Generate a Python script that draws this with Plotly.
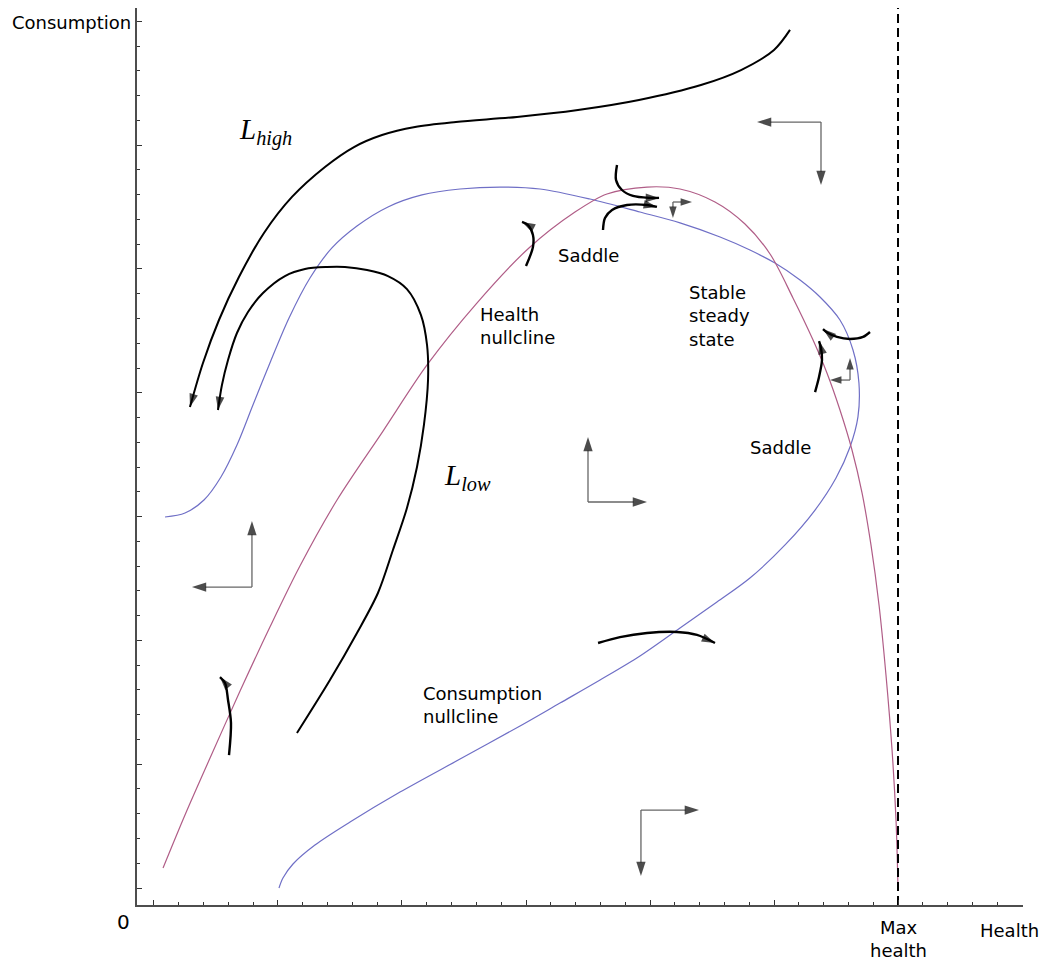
import plotly.graph_objects as go

# Axis extents (one major tick = 1 unit of health / consumption)
X_RANGE = [-0.137, 7.008]
Y_RANGE = [-0.137, 7.108]
MAX_HEALTH = 6.0

# Trajectory L_high (runs from top right down to the left)
lhigh_h = [5.129, 5.000, 4.734, 4.411, 3.911, 3.419, 2.927, 2.435, 2.105, 1.839,
           1.613, 1.379, 1.113, 0.887, 0.685, 0.524, 0.395, 0.290]
lhigh_c = [6.931, 6.769, 6.607, 6.486, 6.365, 6.284, 6.228, 6.187, 6.147, 6.082,
           5.985, 5.824, 5.582, 5.291, 4.935, 4.588, 4.241, 3.885]

# Trajectory L_low (starts low, loops over the top and comes down on the left)
llow_h = [1.153, 1.419, 1.637, 1.806, 1.927, 2.040, 2.121, 2.177, 2.210, 2.202,
          2.153, 2.040, 1.887, 1.718, 1.540, 1.395, 1.218, 1.056, 0.879, 0.758,
          0.669, 0.597, 0.548, 0.516]
llow_c = [1.252, 1.680, 2.060, 2.383, 2.730, 3.069, 3.401, 3.740, 4.103, 4.386,
          4.628, 4.838, 4.943, 4.992, 5.016, 5.016, 5.000, 4.943, 4.806, 4.653,
          4.483, 4.265, 4.063, 3.861]

# Consumption nullcline
cnull_h = [0.089, 0.250, 0.403, 0.540, 0.669, 0.798, 0.935, 1.089, 1.258, 1.435,
           1.637, 1.887, 2.161, 2.468, 2.790, 3.113, 3.516, 3.919, 4.242, 4.565,
           4.806, 5.008, 5.210, 5.371, 5.532, 5.637, 5.685, 5.677, 5.613, 5.500,
           5.331, 5.089, 4.806, 4.540, 4.242, 3.919, 3.597, 3.274, 2.952, 2.468,
           1.984, 1.581, 1.298, 1.121, 1.040, 1.008]
cnull_c = [2.997, 3.029, 3.134, 3.320, 3.578, 3.901, 4.241, 4.604, 4.927, 5.170,
           5.347, 5.501, 5.598, 5.646, 5.662, 5.646, 5.565, 5.460, 5.372, 5.258,
           5.153, 5.048, 4.911, 4.774, 4.588, 4.346, 4.079, 3.805, 3.562, 3.312,
           3.053, 2.771, 2.504, 2.310, 2.100, 1.874, 1.680, 1.494, 1.309, 1.042,
           0.775, 0.533, 0.347, 0.194, 0.081, 0.000]

# Health nullcline
hnull_h = [0.073, 0.250, 0.452, 0.694, 0.935, 1.177, 1.476, 1.847, 2.202, 2.597,
           3.024, 3.395, 3.653, 3.976, 4.242, 4.524, 4.766, 4.968, 5.153, 5.315,
           5.427, 5.532, 5.629, 5.710, 5.782, 5.847, 5.903, 5.952, 5.984, 6.000]
hnull_c = [0.162, 0.590, 1.050, 1.591, 2.108, 2.601, 3.134, 3.691, 4.225, 4.717,
           5.170, 5.460, 5.606, 5.662, 5.646, 5.541, 5.363, 5.121, 4.766, 4.426,
           4.160, 3.861, 3.538, 3.191, 2.771, 2.286, 1.721, 1.115, 0.549, 0.000]

# Local flow sketches around the equilibria
flow_saddle_upper_h = [3.734, 3.726, 3.774, 3.863, 4.000, 4.073]
flow_saddle_upper_c = [5.840, 5.719, 5.638, 5.590, 5.574, 5.574]
flow_saddle_lower_h = [3.621, 3.637, 3.694, 3.815, 3.976, 4.056]
flow_saddle_lower_c = [5.315, 5.412, 5.477, 5.517, 5.517, 5.501]
flow_hnull_h = [3.000, 3.056, 3.056, 3.016, 2.968]
flow_hnull_c = [5.024, 5.178, 5.275, 5.355, 5.380]
flow_lowleft_h = [0.605, 0.621, 0.597, 0.573, 0.532]
flow_lowleft_c = [1.074, 1.333, 1.519, 1.656, 1.704]
flow_cnull_h = [3.581, 3.758, 3.976, 4.218, 4.379, 4.524]
flow_cnull_c = [1.979, 2.027, 2.060, 2.068, 2.044, 1.979]
flow_stable_top_h = [5.774, 5.718, 5.613, 5.508, 5.435, 5.395]
flow_stable_top_c = [4.491, 4.451, 4.435, 4.451, 4.483, 4.515]
flow_stable_left_h = [5.331, 5.363, 5.387, 5.379, 5.363]
flow_stable_left_c = [4.006, 4.128, 4.265, 4.362, 4.418]

# Direction-field corners: horizontal component tip (health) and
# vertical component tip (consumption) for each region
dir_corner_h = [5.379, 3.500, 0.790, 3.927, 4.185, 5.613]
dir_corner_c = [6.187, 3.118, 2.431, 0.630, 5.541, 4.103]
dir_tip_h = [4.863, 3.976, 0.306, 4.395, 4.339, 5.452]
dir_tip_c = [5.679, 3.643, 2.964, 0.097, 5.412, 4.281]
dir_head_px = [15, 15, 15, 15, 12, 12]

BLUE = "#6f6fc6"
PINK = "#b05d87"
FONT = "DejaVu Sans"

fig = go.Figure()


def add_path(h, c, color, width, head=0, smooth=True, dash=None):
    sizes = [0] * (len(h) - 1) + [head]
    fig.add_trace(go.Scatter(
        x=h, y=c,
        mode="lines+markers" if head else "lines",
        line=dict(color=color, width=width, dash=dash,
                  shape="spline" if smooth else "linear", smoothing=0.9),
        marker=dict(symbol="arrow", size=sizes, angleref="previous",
                    color="black", line=dict(width=0)),
        hoverinfo="skip", showlegend=False,
    ))


# Nullclines
add_path(cnull_h, cnull_c, BLUE, 1.2)
add_path(hnull_h, hnull_c, PINK, 1.2)

# Max health boundary
add_path([MAX_HEALTH, MAX_HEALTH], [Y_RANGE[0], Y_RANGE[1]], "black", 2,
         smooth=False, dash="9px,5px")

# Trajectories
add_path(lhigh_h, lhigh_c, "black", 2, head=14)
add_path(llow_h, llow_c, "black", 2, head=14)

# Local flow arrows
for fh, fc in [(flow_saddle_upper_h, flow_saddle_upper_c),
               (flow_saddle_lower_h, flow_saddle_lower_c),
               (flow_hnull_h, flow_hnull_c),
               (flow_lowleft_h, flow_lowleft_c),
               (flow_cnull_h, flow_cnull_c),
               (flow_stable_top_h, flow_stable_top_c),
               (flow_stable_left_h, flow_stable_left_c)]:
    add_path(fh, fc, "black", 2.4, head=14)

# Direction-field arrows
for ch, cc, th, tc, hs in zip(dir_corner_h, dir_corner_c, dir_tip_h, dir_tip_c, dir_head_px):
    add_path([ch, th], [cc, cc], "#666666", 1.3, head=hs, smooth=False)
    add_path([ch, ch], [cc, tc], "#666666", 1.3, head=hs, smooth=False)

# Region labels
labels = [
    ("Saddle", 3.508, 5.105, "center"),
    ("Health<br>nullcline", 2.613, 4.540, "left"),
    ("Stable<br>steady<br>state", 4.298, 4.620, "left"),
    ("Saddle", 5.056, 3.562, "center"),
    ("Consumption<br>nullcline", 2.153, 1.478, "left"),
]
for text, x, y, anchor in labels:
    fig.add_annotation(x=x, y=y, text=text, showarrow=False, xanchor=anchor,
                       yanchor="middle", align="left",
                       font=dict(family=FONT, size=18, color="black"))

fig.add_annotation(x=0.669, y=6.107, text="<i>L</i><sub><i>high</i></sub>",
                   showarrow=False, xanchor="left", yanchor="middle",
                   font=dict(family="Liberation Serif", size=29, color="black"))
fig.add_annotation(x=2.323, y=3.320, text="<i>L</i><sub><i>low</i></sub>",
                   showarrow=False, xanchor="left", yanchor="middle",
                   font=dict(family="Liberation Serif", size=29, color="black"))

# Axis captions (placed in the margins, so positioned on the paper)
fig.add_annotation(xref="paper", yref="paper", x=-0.0045, y=0.984,
                   text="Consumption", showarrow=False,
                   xanchor="right", yanchor="middle",
                   font=dict(family=FONT, size=18, color="black"))
fig.add_annotation(xref="paper", yref="paper", x=-0.0158, y=-0.019,
                   text="0", showarrow=False,
                   xanchor="center", yanchor="middle",
                   font=dict(family=FONT, size=20, color="black"))
fig.add_annotation(xref="x", yref="paper", x=MAX_HEALTH, y=-0.038,
                   text="Max<br>health", showarrow=False,
                   xanchor="center", yanchor="middle", align="center",
                   font=dict(family=FONT, size=18, color="black"))
fig.add_annotation(xref="paper", yref="paper", x=0.9853, y=-0.028,
                   text="Health", showarrow=False,
                   xanchor="center", yanchor="middle",
                   font=dict(family=FONT, size=18, color="black"))

axis_common = dict(
    showline=True, linecolor="#4d4d4d", linewidth=1.5, mirror=False,
    ticks="inside", ticklen=5, tickwidth=1, tickcolor="#333333",
    tick0=0, dtick=1, showticklabels=False, showgrid=False, zeroline=False,
    minor=dict(ticks="inside", ticklen=3, tickwidth=1, tickcolor="#333333",
               tick0=0, dtick=0.2, showgrid=False),
    fixedrange=True,
)

fig.update_layout(
    width=1046, height=963,
    margin=dict(l=137, r=23, t=8, b=58),
    paper_bgcolor="white", plot_bgcolor="white",
    showlegend=False,
    xaxis=dict(range=X_RANGE, **axis_common),
    yaxis=dict(range=Y_RANGE, **axis_common),
)

fig.write_html("out.html")
